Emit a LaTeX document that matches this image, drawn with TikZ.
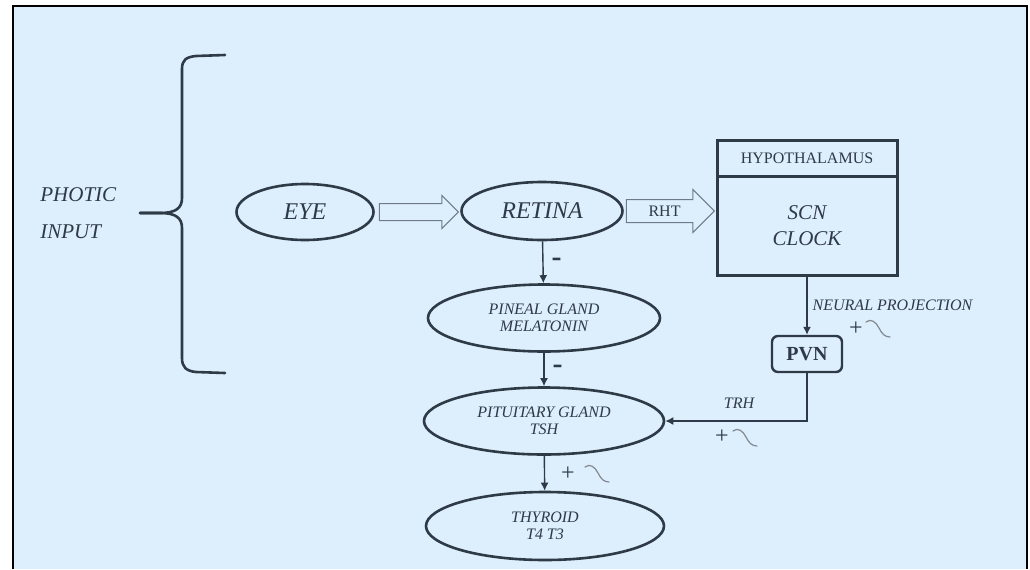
\documentclass[tikz,border=0pt]{standalone}
\usepackage{fontspec}
\setmainfont{Liberation Serif}
\usetikzlibrary{arrows.meta, shapes.geometric, shapes.arrows, positioning}

\definecolor{paleblue}{HTML}{DDEEFC}
\definecolor{ink}{HTML}{2E3A46}
\definecolor{arrowgrey}{HTML}{6F7C88}

\begin{document}
\begin{tikzpicture}[x=0.5pt, y=-0.5pt, >={Latex[length=4pt, width=4pt]},
    organ/.style={ellipse, draw=ink, line width=1.3pt, inner sep=0pt, text=ink, align=center},
    hollow/.style={single arrow, draw=arrowgrey, line width=0.5pt, fill=paleblue, inner sep=0pt, single arrow tip angle=90, text=ink},
    link/.style={->, draw=ink, line width=0.7pt},
    sign/.style={inner sep=0pt, text=ink, font=\fontsize{12}{12}\selectfont},
    minus/.style={inner sep=0pt, text=ink, font=\fontsize{15}{15}\selectfont\bfseries},
    squiggle/.style={draw=ink!60, line width=0.6pt, line cap=round},
    small/.style={inner sep=0pt, text=ink, font=\fontsize{8}{8.5}\selectfont\itshape},
    hypobox/.style={draw=ink, line width=1.5pt, outer sep=0pt, minimum width=90pt, text=ink}
]
    % background
    \useasboundingbox (0,0) rectangle (1030,569);
    \fill[paleblue] (13,6) rectangle (1027,569);
    \draw[black, line width=0.7pt] (13,569) -- (13,6) -- (1027,6) -- (1027,569);

    % photic input
    \node[anchor=west, inner sep=0pt, text=ink, align=left, font=\fontsize{10.5}{18.5}\selectfont\itshape] (photic) at (40,213) {PHOTIC\\INPUT};
    \draw[ink, line width=1.3pt, line cap=round] (225,55) -- (196,56) .. controls (186,57) and (182,60) .. (182,69) -- (182,198) .. controls (182,208) and (176,213) .. (160,213) -- (140,213);
    \draw[ink, line width=1.3pt, line cap=round] (140,213) -- (160,213) .. controls (176,213) and (182,218) .. (182,228) -- (182,358) .. controls (182,367) and (186,371) .. (196,372) -- (225,373);

    % organs
    \node[organ, minimum width=68.5pt, minimum height=28pt, font=\fontsize{12}{14}\selectfont\itshape] (eye) at (305,212) {EYE};
    \node[organ, minimum width=80.5pt, minimum height=29pt, font=\fontsize{12}{14}\selectfont\itshape] (retina) at (542,211) {RETINA};
    \node[organ, minimum width=116pt, minimum height=33.5pt, font=\fontsize{8}{8.5}\selectfont\itshape] (pineal) at (544,318) {PINEAL GLAND\\MELATONIN};
    \node[organ, minimum width=120pt, minimum height=33.5pt, font=\fontsize{8}{8.5}\selectfont\itshape] (pituitary) at (544,421) {PITUITARY GLAND\\TSH};
    \node[organ, minimum width=119pt, minimum height=34pt, font=\fontsize{8}{8.5}\selectfont\itshape] (thyroid) at (545,526) {THYROID\\T4 T3};

    % hypothalamus
    \node[hypobox, minimum height=49.5pt, align=center, font=\fontsize{10.5}{13}\selectfont\itshape] (scn) at (807,225.5) {SCN\\CLOCK};
    \node[hypobox, minimum height=18pt, anchor=south, font=\fontsize{8}{9}\selectfont] (hypo) at (scn.north) {HYPOTHALAMUS};
    \node[draw=ink, line width=1.2pt, rounded corners=3pt, minimum width=35pt, minimum height=18pt, text=ink, font=\fontsize{10}{12}\selectfont\bfseries] (pvn) at (807,354) {PVN};

    % hollow arrows
    \node[hollow, minimum height=39.5pt, minimum width=16pt, text height=4pt, text depth=4pt, single arrow head extend=4pt, right=2pt of eye] (eyearrow) {};
    \node[hollow, minimum height=44pt, minimum width=21pt, text height=8.15pt, text depth=2.85pt, single arrow head extend=5pt, right=1pt of retina, font=\fontsize{8}{9}\selectfont] (rht) {RHT};

    % connectors
    \draw[link] (retina) -- (pineal) node[minus, midway, right=4pt] (minusa) {-};
    \draw[link] (pineal) -- (pituitary) node[minus, midway, right=4pt] (minusb) {-};
    \draw[link] (pituitary) -- (thyroid) node[sign, midway, right=8pt] (plusa) {+};
    \draw[link] (scn) -- (pvn) node[small, midway, right=2.5pt] (neural) {NEURAL PROJECTION};
    \draw[link] (pvn) |- (pituitary) node[small, pos=0.74, above=6pt] (trh) {TRH} node[sign, pos=0.8, below=4pt] (plusc) {+};
    \node[sign] (plusb) at (856,329) {+};

    % squiggles
    \draw[squiggle, shift={(585,467)}] (0,0) .. controls (5,-4) and (10,0) .. (13,6) .. controls (16,12) and (19,15) .. (24,15);
    \draw[squiggle, shift={(866,322)}] (0,0) .. controls (5,-4) and (10,0) .. (13,6) .. controls (16,12) and (19,15) .. (24,15);
    \draw[squiggle, shift={(733,431)}] (0,0) .. controls (5,-4) and (10,0) .. (13,6) .. controls (16,12) and (19,15) .. (24,15);
\end{tikzpicture}
\end{document}
